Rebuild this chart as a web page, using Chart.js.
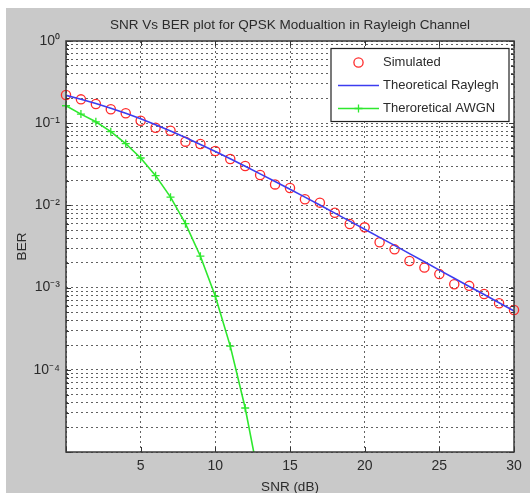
<!DOCTYPE html>
<html>
<head>
<meta charset="utf-8">
<title>SNR Vs BER plot for QPSK Modualtion in Rayleigh Channel</title>
<script src="https://cdn.jsdelivr.net/npm/chart.js@4.4.0/dist/chart.umd.min.js"></script>
<style>
  html, body { margin: 0; padding: 0; background: #ffffff; overflow: hidden; }
  #wrap { position: absolute; left: 0; top: 0; width: 530px; height: 493px; }
</style>
</head>
<body>
<div id="wrap"><canvas id="ber" width="530" height="493"></canvas></div>
<script>
// SNR axis (dB) shared by the simulated points and the Rayleigh curve
const snrDb = [0, 1, 2, 3, 4, 5, 6, 7, 8, 9, 10, 11, 12, 13, 14, 15,
               16, 17, 18, 19, 20, 21, 22, 23, 24, 25, 26, 27, 28, 29, 30];

// Simulated bit error rate over the Rayleigh channel
const simulatedBer = [0.220, 0.195, 0.171, 0.148, 0.132, 0.107, 0.0881, 0.0811,
                      0.0596, 0.0558, 0.0459, 0.0367, 0.0301, 0.0234, 0.0180, 0.0163,
                      0.0119, 0.0108, 0.00815, 0.00594, 0.00541, 0.00356, 0.00292, 0.00211,
                      0.00175, 0.00146, 0.00110, 0.00105, 0.000836, 0.000644, 0.000534];

// Theoretical Rayleigh curve
const rayleighBer = [0.218, 0.196, 0.174, 0.152, 0.132, 0.113, 0.0957, 0.0803,
                     0.0668, 0.0552, 0.0453, 0.0369, 0.0300, 0.0242, 0.0195, 0.0157,
                     0.0126, 0.0101, 0.00805, 0.00643, 0.00513, 0.00408, 0.00326, 0.00259,
                     0.00206, 0.00163, 0.00130, 0.00103, 0.000823, 0.000653, 0.000519];

// Theoretical AWGN curve (falls below the axis floor after 12 dB)
const awgnSnrDb = [0, 1, 2, 3, 4, 5, 6, 7, 8, 9, 10, 11, 12, 13];
const awgnBer = [0.163, 0.129, 0.104, 0.0789, 0.0565, 0.0377, 0.0230,
                 0.0126, 0.00600, 0.00241, 0.000783, 0.000194, 0.0000343, 0.00000397];

// Axis ticks
const xTickValues = [0, 5, 10, 15, 20, 25, 30];
const xTickLabels = ['', '5', '10', '15', '20', '25', '30'];
const yDecades = [0.00001, 0.0001, 0.001, 0.01, 0.1, 1];
const yMinorSteps = [2, 3, 4, 5, 6, 7, 8, 9];
const yLabelValues = [1, 0.1, 0.01, 0.001, 0.0001];
const yTickLabels = ['10\u2070', '10\u207B\u00B9', '10\u207B\u00B2', '10\u207B\u00B3', '10\u207B\u2074'];

const FONT = "'Liberation Sans', Arial, Helvetica, sans-serif";
const TEXT = '#2b2b2b';
const GRID = 'rgba(70,70,70,0.85)';

// every decade plus its 2..9 sub-divisions, as drawn by a log grid
const yGridValues = [];
yDecades.forEach((d, i) => {
  yGridValues.push(d);
  if (i < yDecades.length - 1) yMinorSteps.forEach(m => yGridValues.push(+(m * d).toPrecision(3)));
});

const toPoints = (xs, ys) => xs.map((x, i) => ({ x: x, y: ys[i] }));

// grey figure, white axes
const backdrop = {
  id: 'backdrop',
  beforeDraw(chart) {
    const { ctx, chartArea: a } = chart;
    ctx.save();
    ctx.fillStyle = '#ffffff';
    ctx.fillRect(0, 0, chart.width, chart.height);
    ctx.fillStyle = '#c9c9c9';
    ctx.fillRect(6, 8, chart.width - 6, chart.height - 8);
    ctx.fillStyle = '#ffffff';
    ctx.fillRect(a.left, a.top, a.right - a.left, a.bottom - a.top);
    ctx.restore();
  }
};

// axes box with inward tick marks on all four sides
const axesBox = {
  id: 'axesBox',
  afterDatasetsDraw(chart) {
    const { ctx, chartArea: a, scales } = chart;
    ctx.save();
    ctx.strokeStyle = '#333333';
    ctx.lineWidth = 1;
    ctx.beginPath();
    scales.x.ticks.forEach(t => {
      const px = Math.round(scales.x.getPixelForValue(t.value)) + 0.5;
      ctx.moveTo(px, a.bottom); ctx.lineTo(px, a.bottom - 5);
      ctx.moveTo(px, a.top); ctx.lineTo(px, a.top + 5);
    });
    scales.y.ticks.forEach(t => {
      const py = Math.round(scales.y.getPixelForValue(t.value)) + 0.5;
      const len = yDecades.includes(t.value) ? 5 : 3;
      ctx.moveTo(a.left, py); ctx.lineTo(a.left + len, py);
      ctx.moveTo(a.right, py); ctx.lineTo(a.right - len, py);
    });
    ctx.stroke();
    ctx.lineWidth = 1.5;
    ctx.strokeStyle = '#3a3a3a';
    ctx.strokeRect(a.left, a.top, a.right - a.left, a.bottom - a.top);
    ctx.restore();
  }
};

// boxed legend in the upper right corner of the axes
const boxedLegend = {
  id: 'boxedLegend',
  afterDraw(chart) {
    const { ctx, chartArea: a } = chart;
    const boxW = 178, boxH = 73, rowH = 23;
    const left = a.right - 5 - boxW, top = a.top + 7.5;
    ctx.save();
    ctx.fillStyle = '#ffffff';
    ctx.fillRect(left, top, boxW, boxH);
    ctx.strokeStyle = '#222222';
    ctx.lineWidth = 1.2;
    ctx.strokeRect(left, top, boxW, boxH);
    ctx.font = '13px ' + FONT;
    ctx.textBaseline = 'middle';
    ctx.textAlign = 'left';
    chart.data.datasets.forEach((ds, i) => {
      const cy = top + 14 + i * rowH;
      const x0 = left + 7, x1 = left + 48, cx = (x0 + x1) / 2;
      if (ds.showLine !== false) {
        ctx.strokeStyle = ds.borderColor;
        ctx.lineWidth = ds.borderWidth;
        ctx.beginPath(); ctx.moveTo(x0, cy); ctx.lineTo(x1, cy); ctx.stroke();
      }
      if (ds.pointRadius > 0) {
        ctx.strokeStyle = ds.borderColor;
        ctx.fillStyle = ds.backgroundColor;
        ctx.lineWidth = ds.pointBorderWidth || ds.borderWidth;
        Chart.helpers.drawPoint(ctx, { pointStyle: ds.pointStyle, radius: ds.pointRadius, borderWidth: ctx.lineWidth, rotation: 0 }, cx, cy);
      }
      ctx.fillStyle = TEXT;
      ctx.fillText(ds.label, left + 52, cy);
    });
    ctx.restore();
  }
};

new Chart(document.getElementById('ber'), {
  type: 'scatter',
  data: {
    datasets: [
      {
        label: 'Simulated',
        data: toPoints(snrDb, simulatedBer),
        showLine: false,
        pointStyle: 'circle',
        pointRadius: 4.6,
        pointBorderWidth: 1.3,
        borderWidth: 1.3,
        borderColor: '#ff2a2a',
        backgroundColor: 'rgba(0,0,0,0)',
        clip: false,
        order: 3
      },
      {
        label: 'Theoretical Raylegh',
        data: toPoints(snrDb, rayleighBer),
        showLine: true,
        pointRadius: 0,
        borderWidth: 1.6,
        borderColor: '#3c3cf0',
        backgroundColor: '#3c3cf0',
        tension: 0,
        order: 2
      },
      {
        label: 'Theroretical AWGN',
        data: toPoints(awgnSnrDb, awgnBer),
        showLine: true,
        pointStyle: 'cross',
        pointRadius: 4,
        pointBorderWidth: 1.3,
        borderWidth: 1.6,
        borderColor: '#2ee82e',
        backgroundColor: '#2ee82e',
        tension: 0,
        clip: { left: 10, top: 10, right: 10, bottom: 0 },
        order: 1
      }
    ]
  },
  options: {
    responsive: false,
    animation: false,
    devicePixelRatio: 1,
    layout: { padding: { left: 6, top: 8, right: 16, bottom: 0 } },
    plugins: {
      legend: { display: false },
      tooltip: { enabled: false },
      title: {
        display: true,
        text: 'SNR Vs BER plot for QPSK Modualtion in Rayleigh Channel',
        fullSize: false,
        color: TEXT,
        font: { family: FONT, size: 13.5, weight: 'normal', lineHeight: 1.2 },
        padding: { top: 8.9, bottom: 7.9 }
      }
    },
    scales: {
      x: {
        type: 'linear',
        min: 0,
        max: 30,
        afterBuildTicks: s => { s.ticks = xTickValues.map(v => ({ value: v })); },
        afterFit: s => { s.height = 41; },
        ticks: {
          autoSkip: false,
          maxRotation: 0,
          padding: 6,
          color: TEXT,
          font: { family: FONT, size: 14 },
          callback: (v) => xTickLabels[xTickValues.indexOf(v)]
        },
        grid: { color: GRID, lineWidth: 1, drawTicks: false },
        border: { display: false, dash: [2, 3] },
        title: {
          display: true,
          text: 'SNR (dB)',
          color: TEXT,
          font: { family: FONT, size: 13.5, lineHeight: 0.8 },
          padding: { top: 0, bottom: 0 }
        }
      },
      y: {
        type: 'logarithmic',
        min: 0.00001,
        max: 1,
        afterBuildTicks: s => { s.ticks = yGridValues.map(v => ({ value: v })); },
        afterFit: s => { s.width = 60; },
        ticks: {
          autoSkip: false,
          padding: 6,
          color: TEXT,
          font: { family: FONT, size: 14 },
          callback: (v) => {
            const k = yLabelValues.indexOf(v);
            return k >= 0 ? yTickLabels[k] : '';
          }
        },
        grid: { color: GRID, lineWidth: 1, drawTicks: false },
        border: { display: false, dash: [2, 3] },
        title: {
          display: true,
          text: 'BER',
          color: TEXT,
          font: { family: FONT, size: 13.5, lineHeight: 1.2 },
          padding: { top: 8.2, bottom: 0 }
        }
      }
    }
  },
  plugins: [backdrop, axesBox, boxedLegend]
});
</script>
</body>
</html>
